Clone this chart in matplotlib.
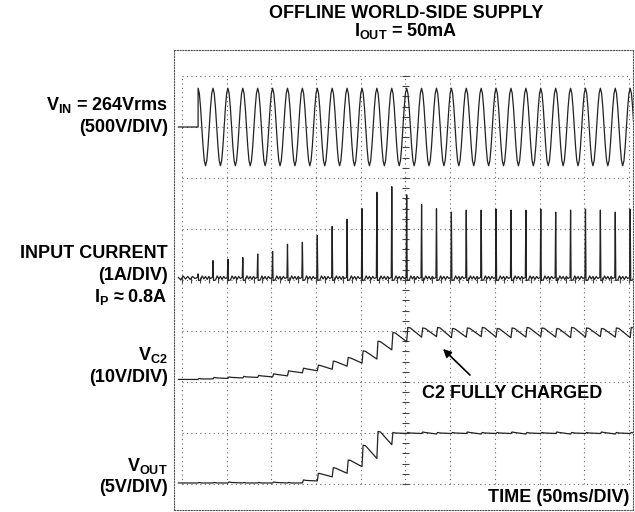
import matplotlib

matplotlib.use("Agg")
import matplotlib.pyplot as plt
import numpy as np

plt.rcParams["font.family"] = ["Liberation Sans", "DejaVu Sans"]
plt.rcParams["font.weight"] = "bold"
plt.rcParams["mathtext.fontset"] = "custom"
plt.rcParams["mathtext.rm"] = "Liberation Sans:bold"
plt.rcParams["mathtext.it"] = "Liberation Sans:bold"
plt.rcParams["mathtext.bf"] = "Liberation Sans:bold"

# scope screen: 10 x 8 divisions, 50ms/DIV -> 60Hz line = 1/3 div per cycle
PERIOD = 1 / 3
T_ON = 0.36  # first line peak after switch-on (div)
N_CYCLES = 30

# V_IN: one line cycle sampled 12 times, offset from its ground (div)
VIN_GND = 7.0
vin_cycle = [0.76, 0.66, 0.38, 0.0, -0.38, -0.66, -0.76, -0.66, -0.38, 0.0, 0.38, 0.66]

# input current spikes, one per cycle (div above ground)
I_GND = 4.05
i_peaks = [0.07, 0.33, 0.36, 0.39, 0.46, 0.51, 0.65, 0.69, 0.82, 1.00,
           1.14, 1.35, 1.67, 1.78, 1.62, 1.43, 1.35, 1.28, 1.32, 1.32,
           1.34, 1.32, 1.32, 1.34, 1.28, 1.32, 1.34, 1.32, 1.28, 1.34]
i_ripple = [0.0, -0.05, 0.03, -0.03, 0.02, -0.04, 0.02, -0.02]

# V_C2 level just after each spike and just before the next one (div)
VC2_GND = 2.05
vc2_peak = [2.07, 2.09, 2.10, 2.11, 2.13, 2.16, 2.22, 2.27, 2.33, 2.41,
            2.48, 2.61, 2.80, 2.97, 3.07, 3.06, 3.07, 3.05, 3.06, 3.07,
            3.05, 3.06, 3.07, 3.06, 3.05, 3.07, 3.06, 3.05, 3.06, 3.07]
vc2_trough = [2.06, 2.07, 2.08, 2.09, 2.10, 2.12, 2.18, 2.22, 2.25, 2.31,
              2.37, 2.45, 2.63, 2.79, 2.88, 2.89, 2.87, 2.88, 2.89, 2.88,
              2.87, 2.88, 2.89, 2.88, 2.87, 2.88, 2.89, 2.88, 2.87, 2.88]

# V_OUT level after each spike / before the next one (div)
VOUT_GND = 0.02
vout_peak = [0.03, 0.03, 0.04, 0.03, 0.03, 0.04, 0.03, 0.08, 0.21, 0.32,
             0.47, 0.76, 1.03, 1.01, 1.01, 1.02, 1.01, 1.01, 1.02, 1.01,
             1.01, 1.02, 1.01, 1.01, 1.02, 1.01, 1.01, 1.02, 1.01, 1.01]
vout_trough = [0.02, 0.02, 0.02, 0.02, 0.02, 0.02, 0.02, 0.06, 0.14, 0.21,
               0.34, 0.50, 0.77, 0.99, 0.99, 0.98, 0.99, 0.99, 0.98, 0.99,
               0.99, 0.98, 0.99, 0.99, 0.98, 0.99, 0.99, 0.98, 0.99, 0.99]

W, H = 635, 512


def px(x, y):
    return x / W, 1 - y / H


fig = plt.figure(figsize=(W / 100, H / 100), dpi=100)
ax = fig.add_axes([174 / W, 2 / H, 459 / W, 460 / H])
ax.set_xlim(-0.179, 10.09)
ax.set_ylim(-0.51, 8.51)
ax.set_xticks([])
ax.set_yticks([])
for s in ax.spines.values():
    s.set_linestyle((0, (1, 1.5)))
    s.set_linewidth(0.8)
    s.set_color("#555555")

# graticule
dots = (0, (1, 3))
ax.vlines(np.arange(11), 0, 8, colors="#666666", linestyles=[dots], lw=0.8)
ax.hlines(np.arange(9), 0, 10, colors="#666666", linestyles=[dots], lw=0.8)
minor = np.arange(0, 10.01, 0.2)
ax.vlines(minor, 4 - 0.06, 4 + 0.06, colors="#444444", lw=0.8)
minor_v = np.arange(0, 8.01, 0.2)
ax.hlines(minor_v, 5 - 0.07, 5 + 0.07, colors="#444444", lw=0.8)

tk = T_ON + PERIOD * np.arange(N_CYCLES)
trace = dict(color="#222222", lw=0.9)

# V_IN
t_in = [-0.08, T_ON]
v_in = [VIN_GND, VIN_GND]
for t0 in tk:
    for j, v in enumerate(vin_cycle):
        t_in.append(t0 + j * PERIOD / len(vin_cycle))
        v_in.append(VIN_GND + v)
ax.plot(t_in, v_in, **trace)

# input current
t_i, v_i = [], []
nr = len(i_ripple)
for j in range(nr):
    t_i.append(-0.08 + j * (T_ON + 0.06) / nr)
    v_i.append(I_GND + i_ripple[j])
for t0, h in zip(tk, i_peaks):
    t_i += [t0 - 0.012, t0, t0 + 0.012]
    v_i += [I_GND, I_GND + h, I_GND - 0.06]
    for j in range(1, nr):
        t_i.append(t0 + 0.02 + j * (PERIOD - 0.04) / nr)
        v_i.append(I_GND + i_ripple[j])
ax.plot(t_i, v_i, **trace)

# V_C2
t_c = [-0.08, T_ON]
v_c = [VC2_GND, VC2_GND]
for t0, pk, tr in zip(tk, vc2_peak, vc2_trough):
    t_c += [t0 + 0.025, t0 + 0.08, t0 + PERIOD]
    v_c += [pk, pk - 0.01, tr]
ax.plot(t_c, v_c, **trace)

# V_OUT
t_o = [-0.08, T_ON]
v_o = [VOUT_GND, VOUT_GND]
for t0, pk, tr in zip(tk, vout_peak, vout_trough):
    t_o += [t0 + 0.025, t0 + 0.08, t0 + PERIOD]
    v_o += [pk, pk - 0.01, tr]
ax.plot(t_o, v_o, **trace)

# labels
fs = 13
fig.text(*px(406, 13), "OFFLINE WORLD-SIDE SUPPLY", ha="center", va="center", fontsize=fs)
fig.text(*px(406, 31), r"I$_{\rm OUT}$ = 50mA", ha="center", va="center", fontsize=fs)

left = [
    (105, r"V$_{\rm IN}$ = 264Vrms"),
    (128, "(500V/DIV)"),
    (254, "INPUT CURRENT"),
    (275, "(1A/DIV)"),
    (297, r"I$_{\rm P}$ ≈ 0.8A"),
    (355, r"V$_{\rm C2}$"),
    (378, "(10V/DIV)"),
    (466, r"V$_{\rm OUT}$"),
    (488, "(5V/DIV)"),
]
for y, s in left:
    fig.text(*px(168, y), s, ha="right", va="center", fontsize=fs)

fig.text(*px(512, 393), "C2 FULLY CHARGED", ha="center", va="center", fontsize=fs)
fig.text(*px(629, 497), "TIME (50ms/DIV)", ha="right", va="center", fontsize=fs)
ax.annotate("", xy=px(441, 347), xycoords="figure fraction",
            xytext=px(472, 377), textcoords="figure fraction",
            arrowprops=dict(arrowstyle="-|>", color="black", lw=1.2, mutation_scale=12))

fig.savefig("out.png", dpi=100)
